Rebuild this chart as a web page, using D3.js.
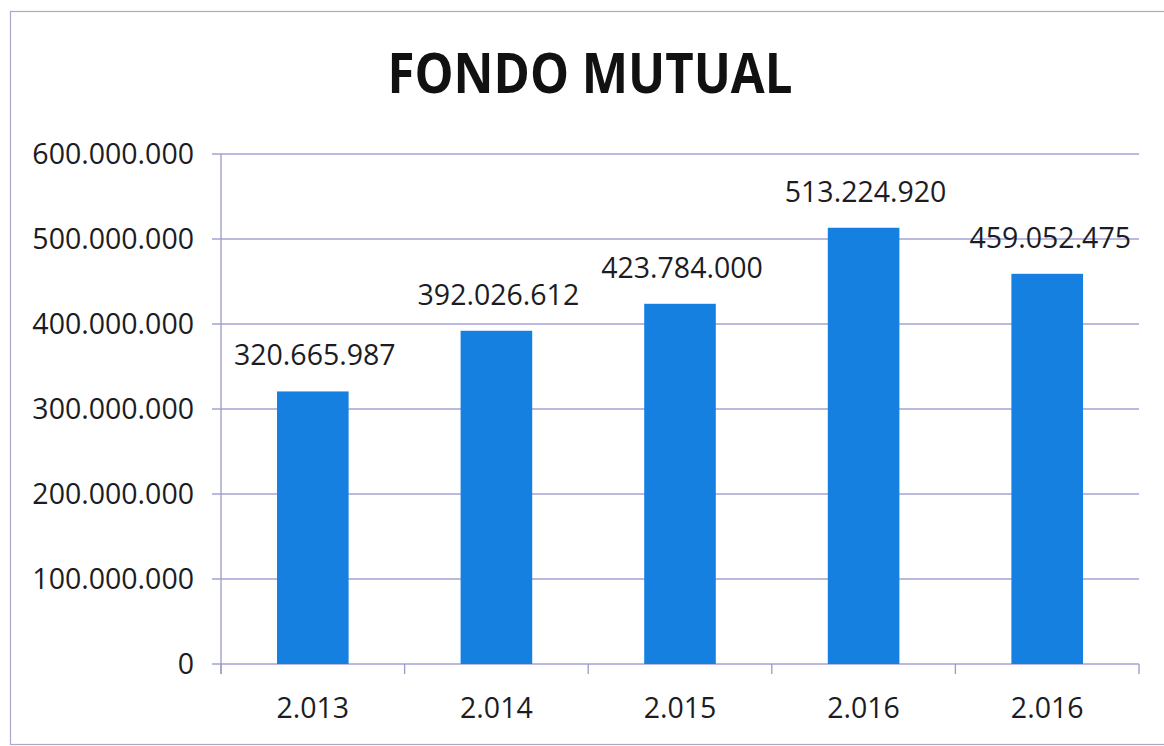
<!DOCTYPE html>
<html>
<head>
<meta charset="utf-8">
<script src="https://cdn.jsdelivr.net/npm/d3@7"></script>
<style>
html,body{margin:0;padding:0;background:#fff;}
svg{display:block;}
</style>
</head>
<body>
<svg id="chart" width="1164" height="746"></svg>
<script>
const title = "FONDO MUTUAL";
const categories = ["2.013", "2.014", "2.015", "2.016", "2.016 "];
const categoryLabels = ["2.013", "2.014", "2.015", "2.016", "2.016"];
const values = [320665987, 392026612, 423784000, 513224920, 459052475];
const yTicks = [0, 100000000, 200000000, 300000000, 400000000, 500000000, 600000000];

const svg = d3.select("#chart");
const W = 1164, H = 746;
const m = {left: 221, right: 1139, top: 154, bottom: 664};

const fmt = v => d3.format(",")(v).replace(/,/g, ".");

// outer border
svg.append("rect").attr("x", 10.5).attr("y", 11.5).attr("width", W + 20).attr("height", 733)
  .attr("fill", "#fff").attr("stroke", "#a9a9c9").attr("stroke-width", 1.2);

const x = d3.scaleBand().domain(categories).range([m.left, m.right]).paddingInner(0.61).paddingOuter(0.305);
const xb = d3.scaleBand().domain(categories).range([m.left, m.right]);
const y = d3.scaleLinear().domain([0, 600000000]).range([m.bottom, m.top]);

// gridlines
svg.append("g").selectAll("line").data(yTicks).join("line")
  .attr("x1", m.left - 9).attr("x2", m.right)
  .attr("y1", d => y(d)).attr("y2", d => y(d))
  .attr("stroke", "#a3a3d6").attr("stroke-width", 1.3);

// y axis line
svg.append("line").attr("x1", m.left).attr("x2", m.left).attr("y1", m.top).attr("y2", m.bottom + 10)
  .attr("stroke", "#9a9ac8").attr("stroke-width", 1.3);

// x ticks at category boundaries
const bounds = categories.map(c => xb(c)).concat([m.right]);
svg.append("g").selectAll("line").data(bounds).join("line")
  .attr("x1", d => d).attr("x2", d => d).attr("y1", m.bottom).attr("y2", m.bottom + 10)
  .attr("stroke", "#9a9ac8").attr("stroke-width", 1.3);

// y labels
svg.append("g").selectAll("text").data(yTicks).join("text")
  .attr("x", 194).attr("y", d => y(d)).attr("dy", "0.36em")
  .attr("text-anchor", "end")
  .attr("font-family", "'Open Sans', sans-serif").attr("font-size", 28.5)
  .attr("fill", "#1c1c24")
  .text(d => fmt(d));

// bars
svg.append("g").selectAll("rect").data(values).join("rect")
  .attr("x", (d, i) => x(categories[i]))
  .attr("width", x.bandwidth())
  .attr("y", d => y(d))
  .attr("height", d => y(0) - y(d))
  .attr("fill", "#1580df");

// data labels
svg.append("g").selectAll("text").data(values).join("text")
  .attr("x", (d, i) => x(categories[i]) + x.bandwidth() / 2 + (i === 4 ? 3 : 2))
  .attr("y", d => y(d) - 26)
  .attr("text-anchor", "middle")
  .attr("font-family", "'Open Sans', sans-serif").attr("font-size", 28.5)
  .attr("fill", "#1c1c24")
  .text(d => fmt(d));

// category labels
svg.append("g").selectAll("text").data(categories).join("text")
  .attr("x", d => xb(d) + xb.bandwidth() / 2)
  .attr("y", 718)
  .attr("text-anchor", "middle")
  .attr("font-family", "'Open Sans', sans-serif").attr("font-size", 28.5)
  .attr("fill", "#1c1c24")
  .text((d, i) => categoryLabels[i]);

// title
svg.append("text").attr("x", 590).attr("y", 93)
  .attr("text-anchor", "middle")
  .attr("font-family", "'Open Sans', sans-serif").attr("font-weight", "bold").attr("font-size", 56)
  .attr("textLength", 405).attr("lengthAdjust", "spacingAndGlyphs")
  .attr("fill", "#111")
  .text(title);
</script>
</body>
</html>
